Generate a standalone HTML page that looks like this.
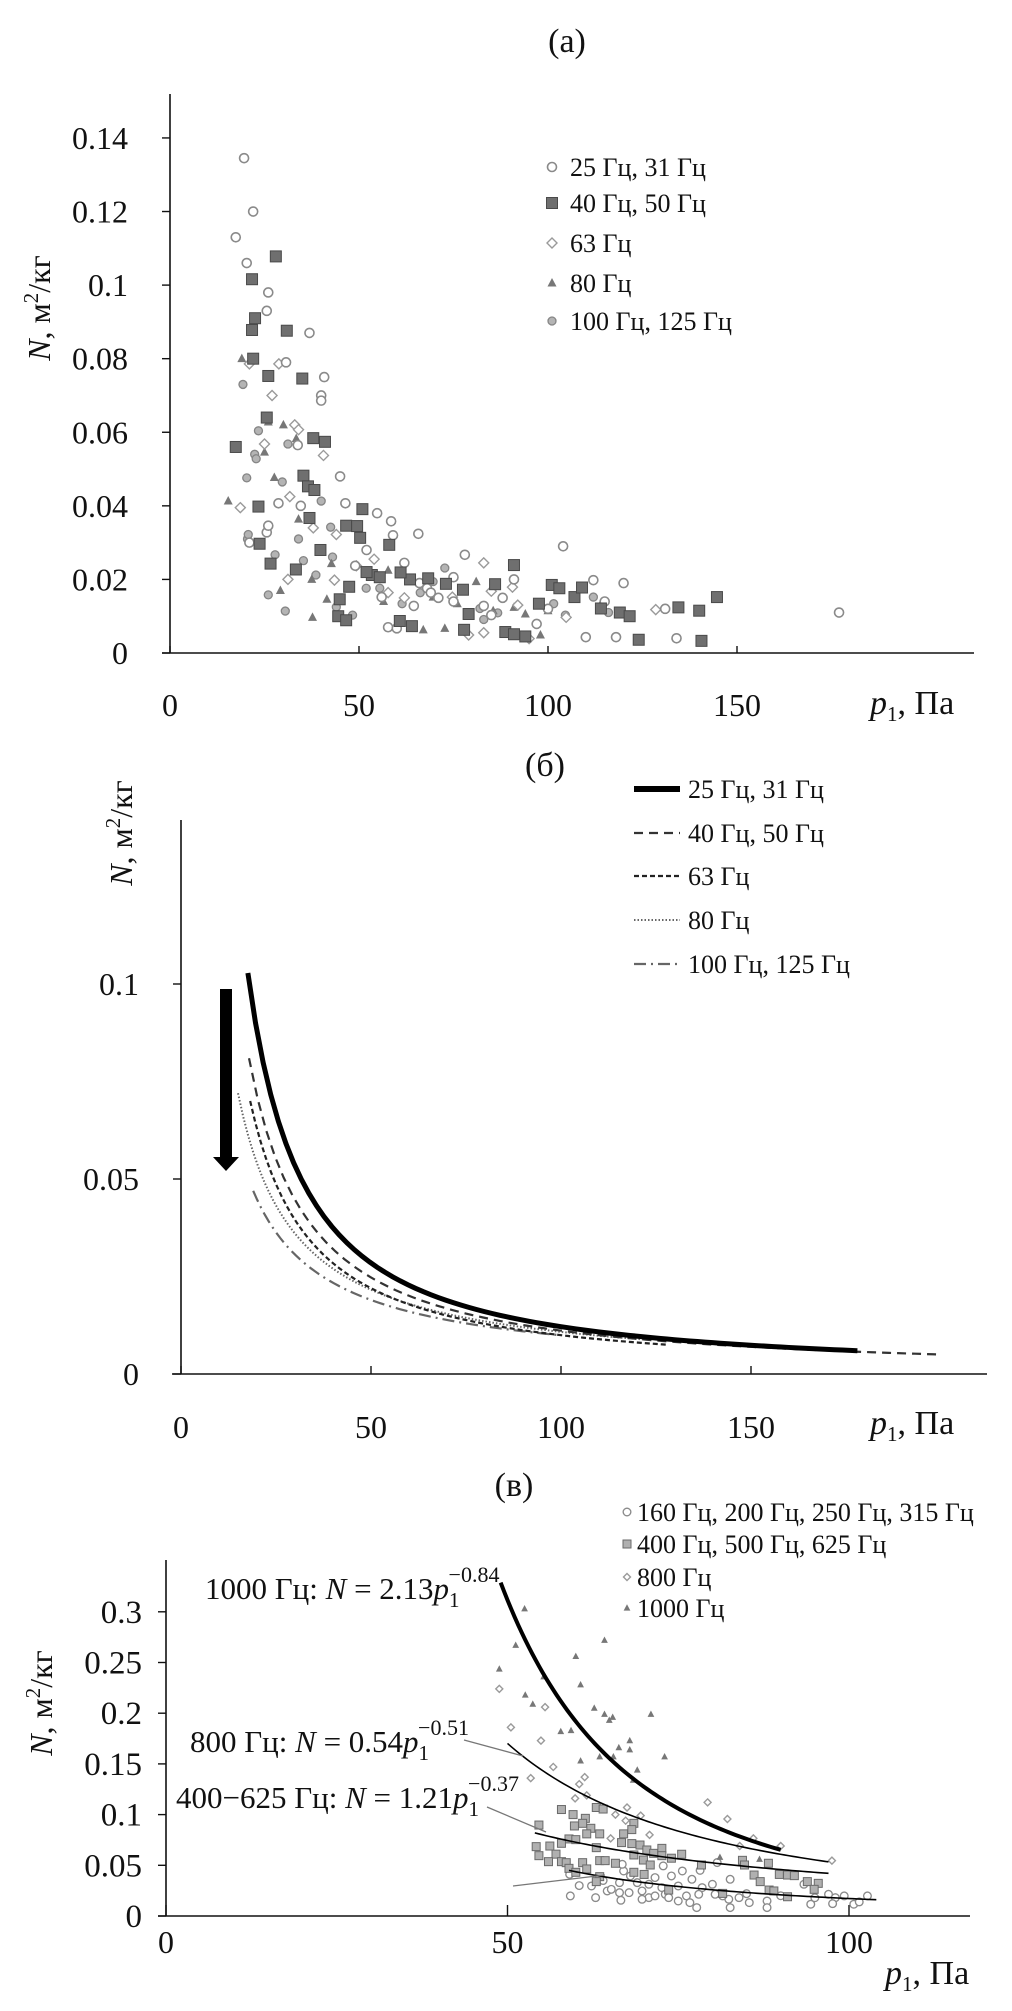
<!DOCTYPE html>
<html><head><meta charset="utf-8">
<style>
html,body{margin:0;padding:0;background:#fff;}
svg{display:block;}
text{font-family:"Liberation Serif","Noto Serif CJK SC",serif;fill:#111;}
</style></head>
<body>
<svg id="fig" xmlns="http://www.w3.org/2000/svg" width="1012" height="2011" viewBox="0 0 1012 2011">
<rect width="1012" height="2011" fill="#fff"/>
<g id="chartA"></g>
<g id="chartB"></g>
<g id="chartC"></g>
</svg>
<script>
// ---------- Chart (a) data ----------
const aTicksX = [0, 50, 100, 150];
const aTicksY = [0, 0.02, 0.04, 0.06, 0.08, 0.1, 0.12, 0.14];
const aTickLabelsY = ["0","0.02","0.04","0.06","0.08","0.1","0.12","0.14"];
const aLegend = ["25 Гц, 31 Гц","40 Гц, 50 Гц","63 Гц","80 Гц","100 Гц, 125 Гц"];
const a25 = [[19.6,.1345],[22,.120],[17.4,.113],[20.3,.106],[26,.098],[25.6,.093],[36.9,.087],[30.7,.079],[40.8,.075],[40,.070],[40,.0686],[33.8,.0565],[45,.048],[46.4,.0407],[54.8,.038],[58.5,.0358],[65.7,.0324],[104,.029],[78,.0267],[25.6,.0328],[26,.0346],[91,.020],[112,.0198],[120,.019],[110,.0043],[118,.0043],[134,.004],[177,.011],[131,.012],[83,.0128],[68,.0176],[75,.014],[57.7,.007],[60,.0067],[69,.0164],[28.7,.0407],[34.6,.040],[21,.030],[59,.032],[49,.0237],[85,.0103],[97,.0079],[75,.0206],[64.5,.0128],[56,.0152],[62,.0245],[71,.0150],[88,.0150],[100,.0120],[115,.0140],[66,.0190],[52,.0280]];
const a40 = [[28,.1078],[21.7,.1016],[22.5,.091],[21.7,.0878],[30.9,.0876],[22,.080],[26,.0753],[35,.0746],[25.6,.064],[17.4,.056],[37.9,.0584],[41,.0574],[35.3,.0482],[36.5,.0453],[38.2,.0443],[23.4,.0398],[36.9,.0367],[50.9,.0391],[46.6,.0346],[49.5,.0345],[50.3,.0313],[23.7,.0297],[58,.0294],[39.8,.028],[33.3,.0227],[26.6,.0243],[53.4,.0212],[52,.022],[55.5,.0206],[63.5,.020],[68.3,.0203],[61,.0219],[47.4,.018],[73,.0188],[77.5,.0172],[91,.0239],[86,.0187],[101,.0185],[103,.0176],[107,.0152],[109,.0178],[114,.0121],[119,.011],[121.6,.010],[134.5,.0124],[140,.0115],[144.7,.0152],[140.6,.0033],[124,.0036],[88.7,.0057],[91,.0051],[94,.0045],[77.8,.0063],[79,.0106],[97.6,.0134],[44.9,.0146],[44.5,.010],[46.6,.0089],[60.8,.0087],[64,.0073]];
const a63 = [[21,.0786],[28.8,.0786],[27,.070],[25,.0568],[33,.062],[34,.0607],[40.6,.0537],[18.6,.0395],[31.7,.0425],[37.9,.034],[44,.0322],[54,.0255],[31.2,.020],[43.5,.0198],[49.3,.0237],[83,.0245],[90.6,.0179],[85,.0168],[79,.0049],[83,.0055],[95,.0039],[128.5,.0118],[104.8,.0097],[57.7,.0164],[68,.0188],[74.7,.0152],[62,.0150],[92,.0130]];
const a80 = [[19,.080],[30,.062],[26,.0628],[25,.0546],[33.4,.0583],[27.6,.0477],[15.4,.0413],[34,.0364],[37.5,.020],[29.2,.017],[37.7,.0097],[41.5,.0146],[42.7,.0243],[56.5,.014],[67,.0063],[72.7,.0067],[81,.0194],[85.5,.0115],[91,.0124],[94,.0106],[98,.0049],[100,.0115],[114,.0134],[57.7,.0225],[69.6,.0152],[76,.0134]];
const a100 = [[19.3,.073],[20.3,.0476],[23.4,.0604],[22.4,.054],[22.8,.0528],[20.5,.031],[20.7,.0322],[26,.0158],[30.5,.0114],[27.8,.0267],[29.7,.0465],[31.2,.0568],[34,.031],[35.3,.0251],[38.6,.0212],[40,.0413],[42.5,.0342],[43,.0261],[44,.0125],[48.3,.0103],[51.9,.0176],[55.5,.0176],[61.4,.0134],[66.2,.0164],[69.6,.0194],[72.7,.0231],[82,.0121],[83,.0091],[86.7,.0109],[101.5,.0134],[104.6,.0103],[112,.0152],[116,.011]];

// ---------- Chart (б) data ----------
const bTicksX = [0, 50, 100, 150];
const bTicksY = [0, 0.05, 0.1];
const bTickLabelsY = ["0","0.05","0.1"];
const bLegend = ["25 Гц, 31 Гц","40 Гц, 50 Гц","63 Гц","80 Гц","100 Гц, 125 Гц"];
const bCoefA = [3.50, 2.26, 1.94, 1.08, 0.739];
const bExpB = [1.23, 1.154, 1.145, 1.0, 0.936];
const bPStart = [17.6, 17.9, 18.2, 15, 19];
const bPEnd = [178, 200, 128, 122, 100];

// ---------- Chart (в) data ----------
const cTicksX = [0, 50, 100];
const cTicksY = [0, 0.05, 0.1, 0.15, 0.2, 0.25, 0.3];
const cTickLabelsY = ["0","0.05","0.1","0.15","0.2","0.25","0.3"];
const cLegend = ["160 Гц, 200 Гц, 250 Гц, 315 Гц","400 Гц, 500 Гц, 625 Гц","800 Гц","1000 Гц"];
const c1000 = [[52.5,.303],[51.2,.267],[48.8,.2436],[55.3,.236],[60,.256],[64.2,.272],[52.6,.218],[53.7,.209],[60.7,.228],[62.7,.205],[64.2,.199],[65.4,.196],[64.9,.193],[71,.199],[57.8,.182],[59.3,.183],[67.9,.173],[66.3,.166],[67.9,.164],[60.7,.153],[63.5,.157],[65.5,.157],[73,.157],[69,.144],[68.4,.134],[81.1,.058],[86.9,.056]];
const c800 = [[48.8,.224],[55.5,.206],[50.5,.186],[54.9,.173],[56.7,.147],[53.4,.136],[61.3,.137],[60.5,.130],[59.9,.116],[61.6,.119],[67.5,.107],[65.8,.100],[69.5,.099],[67.3,.094],[70.8,.080],[65.1,.0766],[79.3,.112],[82.2,.0957],[86,.0766],[90,.069],[97.5,.0546],[84,.069]];
const c400 = [[57.9,.105],[63,.107],[59.6,.100],[61.4,.0963],[64,.1055],[54.6,.0897],[59.8,.0888],[61,.0914],[62.2,.0865],[63.5,.081],[61.6,.081],[59,.076],[57.9,.0717],[60,.0753],[54.2,.0684],[56.2,.069],[57.1,.061],[54.6,.0595],[57.9,.0536],[56,.0536],[58.6,.0526],[61,.0526],[59,.047],[60,.0431],[61.6,.0464],[63.5,.0546],[64.3,.0546],[65.8,.052],[63,.0674],[67,.081],[68.5,.0914],[68.2,.0852],[66.7,.0724],[68.2,.0714],[69.4,.0700],[70.4,.0651],[68.5,.0602],[71.4,.0618],[72.6,.0667],[72.6,.0595],[74,.057],[75.5,.0609],[69.9,.0552],[70.9,.0503],[68.5,.0431],[70,.041],[63.5,.0388],[63,.0339],[78.4,.0503],[84.4,.0549],[84.7,.0503],[88.2,.052],[86.1,.0404],[87,.0339],[89.8,.041],[91,.0404],[92,.0398],[93.9,.0339],[95.5,.0322],[88.3,.0256],[89,.0247],[94.9,.0263],[91,.019],[81.5,.0223],[73.6,.0256]];
const c160 = [[59.2,.0198],[62.9,.0181],[62.3,.0296],[66.6,.0155],[64.6,.0247],[65.2,.0263],[66.4,.0329],[67,.0444],[68,.0395],[69,.0329],[69.7,.0247],[70.7,.0313],[71.6,.0379],[72.6,.028],[73.1,.0214],[73.6,.0181],[72.8,.0494],[74,.0395],[75,.0296],[76.2,.0198],[77,.0362],[78.2,.045],[78.5,.028],[80,.0313],[80.4,.0214],[80.7,.0527],[82.4,.0165],[83.9,.0181],[85.4,.0132],[88,.0148],[93.4,.0313],[94.4,.0116],[97,.0214],[98,.0181],[99.3,.0198],[100.7,.0116],[102.7,.0198],[101.5,.0139],[97.6,.0122],[59.1,.0411],[66.8,.051],[75.6,.0444],[82.6,.0362],[76.7,.0132],[77.7,.0083],[88,.0083],[82.6,.0083],[70.7,.0181],[66.4,.023],[67.8,.023],[69.7,.0165],[71.6,.0198],[75,.0148],[78,.0214],[81.5,.0198],[85,.022],[90,.02],[95,.018],[60.5,.03],[64,.035]];
const cCoefA = [10300, 160, 7.74, 75.2];
const cExpB = [2.66, 1.75, 1.14, 1.82];
const cPStart = [49, 50, 54, 59];
const cPEnd = [90, 97, 97, 104];

// ---------- helpers ----------
const NS = "http://www.w3.org/2000/svg";
function mk(parent, tag, attrs, txt) {
  const el = document.createElementNS(NS, tag);
  for (const k in attrs) el.setAttribute(k, attrs[k]);
  if (txt !== undefined) el.textContent = txt;
  parent.appendChild(el);
  return el;
}
function marker(g, kind, x, y, s) {
  let el;
  if (kind === "circle") el = mk(g, "circle", {cx:x, cy:y, r:4.5*s, fill:"#fff", stroke:"#8a8a8a", "stroke-width":1.6*s});
  else if (kind === "square") el = mk(g, "rect", {x:x-5.5*s, y:y-5.5*s, width:11*s, height:11*s, fill:"#6f6f6f", stroke:"#4a4a4a", "stroke-width":1});
  else if (kind === "lsquare") el = mk(g, "rect", {x:x-4*s, y:y-4*s, width:8*s, height:8*s, fill:"#b0b0b0", stroke:"#6a6a6a", "stroke-width":1});
  else if (kind === "diamond") el = mk(g, "polygon", {points:`${x},${y-5*s} ${x+5*s},${y} ${x},${y+5*s} ${x-5*s},${y}`, fill:"#fff", stroke:"#9a9a9a", "stroke-width":1.4});
  else if (kind === "triangle") el = mk(g, "polygon", {points:`${x},${y-5*s} ${x+4.5*s},${y+3.5*s} ${x-4.5*s},${y+3.5*s}`, fill:"#777"});
  else if (kind === "gcircle") el = mk(g, "circle", {cx:x, cy:y, r:4*s, fill:"#b4b4b4", stroke:"#858585", "stroke-width":1.3});
  return el;
}
function yTitle(g, x, y, size) {
  const t = mk(g, "text", {x:x, y:y, "font-size":size, "text-anchor":"middle", transform:`rotate(-90 ${x} ${y})`});
  mk(t, "tspan", {"font-style":"italic"}, "N");
  mk(t, "tspan", {}, ", м");
  mk(t, "tspan", {"font-size":size*0.65, dy:-size*0.38}, "2");
  mk(t, "tspan", {dy:size*0.38}, "/кг");
  return t;
}
function xTitle(g, x, y, size) {
  const t = mk(g, "text", {x:x, y:y, "font-size":size});
  mk(t, "tspan", {"font-style":"italic"}, "p");
  mk(t, "tspan", {"font-size":size*0.62, dy:size*0.2}, "1");
  mk(t, "tspan", {dy:-size*0.2}, ", Па");
  return t;
}
function curvePath(sx, sy, a, b, p0, p1) {
  let d = "";
  const n = 80;
  for (let i = 0; i <= n; i++) {
    const p = p0 + (p1 - p0) * i / n;
    const v = a * Math.pow(p, -b);
    d += (i ? "L" : "M") + sx(p).toFixed(2) + "," + sy(v).toFixed(2);
  }
  return d;
}

// ---------- Chart (a) ----------
(function(){
  const g = document.getElementById("chartA");
  const sx = p => 170 + p * 3.78;
  const sy = v => 653 - v * 3679;
  const t = mk(g, "text", {x:567, y:52, "font-size":34, "text-anchor":"middle"}, "(a)");
  
  
  const ax = mk(g, "line", {x1:170, y1:94, x2:170, y2:653, stroke:"#111", "stroke-width":1.6});
  
  
  const axx = mk(g, "line", {x1:162, y1:653, x2:974, y2:653, stroke:"#111", "stroke-width":1.6});
  
  
  aTicksY.forEach((v, i) => {
    const tk = mk(g, "line", {x1:162, y1:sy(v), x2:170, y2:sy(v), stroke:"#111", "stroke-width":1.4});
    
    
    const lb = mk(g, "text", {x:128, y:sy(v)+11, "font-size":32, "text-anchor":"end"}, aTickLabelsY[i]);
    
    
  });
  aTicksX.forEach(v => {
    const tk = mk(g, "line", {x1:sx(v), y1:653, x2:sx(v), y2:646, stroke:"#111", "stroke-width":1.4});
    
    
    const lb = mk(g, "text", {x:sx(v), y:716, "font-size":32, "text-anchor":"middle"}, String(v));
    
    
  });
  const yt = yTitle(g, 50, 308, 32);
  
  
  const xt = xTitle(g, 870, 714, 34);
  
  
  const series = [[a100,"gcircle"],[a80,"triangle"],[a63,"diamond"],[a25,"circle"],[a40,"square"]];
  series.forEach(([arr, kind]) => {
    arr.forEach(pt => {
      const m = marker(g, kind, sx(pt[0]), sy(pt[1]), 1);
      
      
    });
  });
  const kinds = ["circle","square","diamond","triangle","gcircle"];
  const rows = [167, 203, 243, 283, 321];
  aLegend.forEach((lab, i) => {
    const m = marker(g, kinds[i], 552, rows[i], 1);
    
    
    const tx = mk(g, "text", {x:570, y:rows[i]+9, "font-size":26}, lab);
    
    
  });
})();

// ---------- Chart (б) ----------
(function(){
  const g = document.getElementById("chartB");
  const sx = p => 181 + p * 3.8;
  const sy = v => 1374 - v * 3900;
  const t = mk(g, "text", {x:545, y:776, "font-size":34, "text-anchor":"middle"}, "(б)");
  
  
  const ax = mk(g, "line", {x1:181, y1:820, x2:181, y2:1374, stroke:"#111", "stroke-width":1.6});
  
  
  const axx = mk(g, "line", {x1:172, y1:1374, x2:987, y2:1374, stroke:"#111", "stroke-width":1.6});
  
  
  bTicksY.forEach((v, i) => {
    const tk = mk(g, "line", {x1:173, y1:sy(v), x2:181, y2:sy(v), stroke:"#111", "stroke-width":1.4});
    
    
    const lb = mk(g, "text", {x:139, y:sy(v)+11, "font-size":32, "text-anchor":"end"}, bTickLabelsY[i]);
    
    
  });
  bTicksX.forEach(v => {
    const tk = mk(g, "line", {x1:sx(v), y1:1374, x2:sx(v), y2:1366, stroke:"#111", "stroke-width":1.4});
    
    
    const lb = mk(g, "text", {x:sx(v), y:1438, "font-size":32, "text-anchor":"middle"}, String(v));
    
    
  });
  const yt = yTitle(g, 132, 833, 32);
  
  
  const xt = xTitle(g, 870, 1434, 34);
  
  
  const styles = [
    {stroke:"#000", "stroke-width":5, fill:"none"},
    {stroke:"#333", "stroke-width":2.2, fill:"none", "stroke-dasharray":"9,6"},
    {stroke:"#222", "stroke-width":2.2, fill:"none", "stroke-dasharray":"5,3"},
    {stroke:"#666", "stroke-width":2, fill:"none", "stroke-dasharray":"1.5,2"},
    {stroke:"#666", "stroke-width":2.2, fill:"none", "stroke-dasharray":"12,5,2,5"}
  ];
  for (let i = bCoefA.length - 1; i >= 0; i--) {
    const st = Object.assign({d: curvePath(sx, sy, bCoefA[i], bExpB[i], bPStart[i], bPEnd[i])}, styles[i]);
    const p = mk(g, "path", st);
    
    
  }
  const rows = [789, 833, 876, 920, 964];
  bLegend.forEach((lab, i) => {
    const st = Object.assign({x1:634, y1:rows[i], x2:680, y2:rows[i]}, styles[i]);
    if (i === 0) st["stroke-width"] = 6;
    const ln = mk(g, "line", st);
    
    
    const tx = mk(g, "text", {x:688, y:rows[i]+9, "font-size":26}, lab);
    
    
  });
  const sh = mk(g, "rect", {x:220, y:989, width:12, height:170, fill:"#000"});
  
  
  const hd = mk(g, "polygon", {points:"213,1157 239,1157 226,1171", fill:"#000"});
  
  
})();

// ---------- Chart (в) ----------
(function(){
  const g = document.getElementById("chartC");
  const sx = p => 166 + p * 6.83;
  const sy = v => 1916 - v * 1014;
  const t = mk(g, "text", {x:514, y:1496, "font-size":34, "text-anchor":"middle"}, "(в)");
  
  
  const ax = mk(g, "line", {x1:166, y1:1560, x2:166, y2:1916, stroke:"#111", "stroke-width":1.6});
  
  
  const axx = mk(g, "line", {x1:158, y1:1916, x2:970, y2:1916, stroke:"#111", "stroke-width":1.6});
  
  
  cTicksY.forEach((v, i) => {
    const tk = mk(g, "line", {x1:158, y1:sy(v), x2:166, y2:sy(v), stroke:"#111", "stroke-width":1.4});
    
    
    const lb = mk(g, "text", {x:142, y:sy(v)+11, "font-size":33, "text-anchor":"end"}, cTickLabelsY[i]);
    
    
  });
  cTicksX.forEach(v => {
    const tk = mk(g, "line", {x1:sx(v), y1:1916, x2:sx(v), y2:1905, stroke:"#111", "stroke-width":1.4});
    
    
    const lb = mk(g, "text", {x:sx(v), y:1953, "font-size":32, "text-anchor":"middle"}, String(v));
    
    
  });
  const yt = yTitle(g, 52, 1703, 32);
  
  
  const xt = xTitle(g, 885, 1984, 34);
  
  
  const series = [[c160,"circle",0.85],[c400,"lsquare",1],[c800,"diamond",0.7],[c1000,"triangle",0.75]];
  series.forEach(([arr, kind, s]) => {
    arr.forEach(pt => {
      const m = marker(g, kind, sx(pt[0]), sy(pt[1]), s);
      
      
    });
  });
  const widths = [4, 1.6, 1.6, 1.6];
  for (let i = 0; i < cCoefA.length; i++) {
    const p = mk(g, "path", {d: curvePath(sx, sy, cCoefA[i], cExpB[i], cPStart[i], cPEnd[i]), stroke:"#000", "stroke-width":widths[i], fill:"none"});
    
    
  }
  const leaders = [[464,1740,523,1756],[487,1807,546,1832],[513,1886,605,1875]];
  leaders.forEach(l => {
    const ln = mk(g, "line", {x1:l[0], y1:l[1], x2:l[2], y2:l[3], stroke:"#777", "stroke-width":1.3});
    
    
  });
  function eq(x, y, head, coef, exp) {
    const tx = mk(g, "text", {x:x, y:y, "font-size":31});
    mk(tx, "tspan", {}, head + ": ");
    mk(tx, "tspan", {"font-style":"italic"}, "N");
    mk(tx, "tspan", {}, " = " + coef);
    mk(tx, "tspan", {"font-style":"italic"}, "p");
    mk(tx, "tspan", {"font-size":21, dy:8}, "1");
    mk(tx, "tspan", {"font-size":22, dx:-11, dy:-25}, exp);
    return tx;
  }
  const e1 = eq(205, 1599, "1000 Гц", "2.13", "−0.84");
  
  
  const e2 = eq(190, 1752, "800 Гц", "0.54", "−0.51");
  
  
  const e3 = eq(176, 1808, "400−625 Гц", "1.21", "−0.37");
  
  
  const kinds = ["circle","lsquare","diamond","triangle"];
  const sizes = [0.85, 1, 0.7, 0.75];
  const rows = [1512, 1544, 1577, 1608];
  cLegend.forEach((lab, i) => {
    const m = marker(g, kinds[i], 627, rows[i], sizes[i]);
    
    
    const tx = mk(g, "text", {x:637, y:rows[i]+9, "font-size":26}, lab);
    
    
  });
})();
</script>
</body></html>
